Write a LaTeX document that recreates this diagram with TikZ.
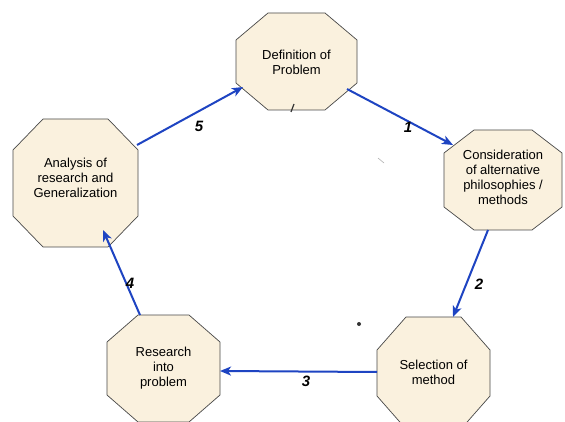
\documentclass[tikz,border=0pt]{standalone}
\usepackage{fontspec}
\setmainfont{Liberation Sans}
\usetikzlibrary{arrows.meta}
\definecolor{octfill}{HTML}{FAF1DE}
\definecolor{octline}{HTML}{484848}
\definecolor{arrblue}{HTML}{1E44C2}
\tikzset{
  octo/.style={draw=octline, fill=octfill, line width=0.7pt, line join=miter},
  txt/.style={align=center, inner sep=0pt, font=\fontsize{13}{15}\selectfont},
  flow/.style={draw=arrblue, line width=2pt, -{Stealth[length=11pt,width=9pt,inset=3pt]}},
  num/.style={font=\fontsize{15}{15}\selectfont\bfseries\itshape, inner sep=0pt}
}
% #1 cx, #2 cy, #3 half width, #4 half height, #5 chamfer x, #6 chamfer y
\newcommand\octagonpath[6]{%
  \draw[octo, shift={(#1,#2)}]
    (-#3+#5,-#4) -- (#3-#5,-#4) -- (#3,-#4+#6) -- (#3,#4-#6)
    -- (#3-#5,#4) -- (-#3+#5,#4) -- (-#3,#4-#6) -- (-#3,-#4+#6) -- cycle;}
\begin{document}
\begin{tikzpicture}[x=1pt,y=-1pt]
\useasboundingbox (0,0) rectangle (565,422);
\fill[white] (0,0) rectangle (565,422);

% octagons
\octagonpath{296.5}{61.5}{60.5}{48.5}{32}{27}
\octagonpath{503}{180}{59}{50}{30}{23}
\octagonpath{433.5}{373}{56.5}{56}{29}{33}
\octagonpath{163.5}{368.5}{56.5}{53.5}{31}{27}
\octagonpath{75.5}{183}{62.5}{64}{30}{31}

% texts
\node[txt] (def) at (296.5,62) {Definition of\\Problem};
\node[txt] (con) at (503,177.5) {Consideration\\of alternative\\philosophies /\\methods};
\node[txt] (sel) at (433.5,372.5) {Selection of\\method};
\node[txt] (res) at (163.5,368) {Research\\into\\problem};
\node[txt] (ana) at (75.5,178) {Analysis of\\research and\\Generalization};

% connector end points on the octagon borders
\coordinate (defSE) at (347,89);
\coordinate (conNW) at (453,145);
\coordinate (conS) at (488,230);
\coordinate (selN) at (453,317);
\coordinate (selW) at (377,372);
\coordinate (resE) at (220,371);
\coordinate (resN) at (140,315);
\coordinate (anaS) at (103,230);
\coordinate (anaNE) at (137,145);
\coordinate (defSW) at (243,87);

\draw[flow] (defSE) -- (conNW);
\draw[flow] (conS) -- (selN);
\draw[flow] (selW) -- (resE);
\draw[flow] (resN) -- (anaS);
\draw[flow] (anaNE) -- (defSW);

% labels
\node[num] (n1) at (408,127) {1};
\node[num] (n2) at (479,284) {2};
\node[num] (n3) at (306,381) {3};
\node[num] (n4) at (130,283) {4};
\node[num] (n5) at (199,126) {5};

% small marks
\fill[black!80] (359,324) circle (2pt);
\draw[black!80, line width=1.2pt] (291,112) -- (294,104);
\draw[black!30, line width=0.6pt] (378,158) -- (384,163);
\end{tikzpicture}
\end{document}
